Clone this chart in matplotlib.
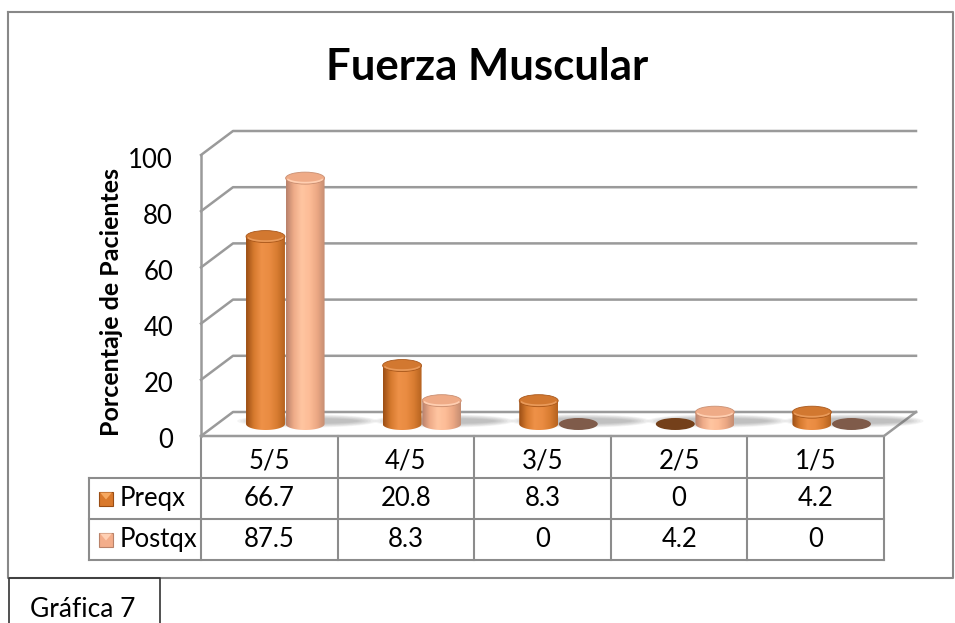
import numpy as np
import matplotlib
matplotlib.use("Agg")
import matplotlib.pyplot as plt
import matplotlib.transforms as mtransforms
from matplotlib.patches import Ellipse, Polygon
from matplotlib.colors import LinearSegmentedColormap

# data
categories = ["5/5", "4/5", "3/5", "2/5", "1/5"]
series_names = ["Preqx", "Postqx"]
preqx = [66.7, 20.8, 8.3, 0, 4.2]
postqx = [87.5, 8.3, 0, 4.2, 0]
y_ticks = [0, 20, 40, 60, 80, 100]

plt.rcParams['font.family'] = ['Lato', 'DejaVu Sans']

W, H = 955, 623
fig = plt.figure(figsize=(W / 100, H / 100), dpi=100)

# background axes in pixel units (borders, titles, table frame)
bg = fig.add_axes([0, 0, 1, 1])
bg.set_xlim(0, W)
bg.set_ylim(H, 0)
bg.axis('off')

# front plane of the 3D plot box
x_l, x_r, y_b, y_t = 201, 884, 436, 155
ax = fig.add_axes([x_l / W, 1 - y_b / H, (x_r - x_l) / W, (y_b - y_t) / H])
ax.axis('off')

n = len(categories)
px_x = (x_r - x_l) / n
px_y = (y_b - y_t) / 100
DX = 32 / px_x     # depth offset, data units
DY = 24 / px_y
RY = 6 / px_y      # half height of cylinder ellipses
x0, x1 = -0.5, n - 0.5

grid_c = '#9a9a9a'
for v in y_ticks:
    ax.plot([x0, x0 + DX, x1 + DX], [v, v + DY, v + DY], color=grid_c, lw=1.8,
            clip_on=False, zorder=1)
ax.plot([x0, x0], [0, 100], color=grid_c, lw=1.8, clip_on=False, zorder=1)
ax.plot([x0, x1, x1 + DX], [0, 0, DY], color=grid_c, lw=1.8, clip_on=False, zorder=1)

pre_cmap = LinearSegmentedColormap.from_list(
    'pre', ['#9a4d14', '#d67a2e', '#ee9148', '#ea8c42', '#d87c31', '#b5621f'])
post_cmap = LinearSegmentedColormap.from_list(
    'post', ['#b7806a', '#eeab88', '#ffc5a1', '#fdbd97', '#eca884', '#c48d72'])
styles = [
    dict(cmap=pre_cmap, top='#d27830', rim='#e99a5a', flat='#74401a', edge='#a9581c'),
    dict(cmap=post_cmap, top='#efab87', rim='#ffcfb2', flat='#7f5b4a', edge='#c98f72'),
]

bar_w = 0.285
offsets = [-0.145, 0.145]
mx, my = DX / 2, DY / 2


def shadow(cx, width, z):
    for k in np.linspace(1.0, 0.4, 7):
        ax.add_patch(Ellipse((cx + mx + 0.16, my + RY * 0.5), width * (0.7 + 0.55 * k),
                             2 * RY * 1.1 * k, facecolor='#6a6a6a', edgecolor='none',
                             alpha=0.07, zorder=z, clip_on=False))


def cylinder(cx, v, st, z):
    c = cx + mx
    left, right = c - bar_w / 2, c + bar_w / 2
    if v <= 0:
        ax.add_patch(Ellipse((c, my), bar_w, 2 * RY, facecolor=st['flat'],
                             edgecolor='none', zorder=z, clip_on=False))
        return
    top = my + v
    t = np.linspace(np.pi, 2 * np.pi, 60)
    verts = [(left, top)] + list(zip(c + bar_w / 2 * np.cos(t), my + RY * np.sin(t))) + [(right, top)]
    body = Polygon(verts, closed=True, facecolor='none', edgecolor='none', zorder=z)
    ax.add_patch(body)
    grad = np.linspace(0, 1, 256).reshape(1, -1)
    im = ax.imshow(grad, cmap=st['cmap'], extent=[left, right, my - RY, top],
                   aspect='auto', zorder=z, interpolation='bicubic')
    im.set_clip_path(body)
    ax.add_patch(Ellipse((c, top), bar_w, 2 * RY, facecolor=st['top'],
                         edgecolor=st['edge'], lw=0.6, zorder=z + 0.1))
    tt = np.linspace(np.pi * 1.1, np.pi * 1.9, 30)
    ax.plot(c + bar_w / 2 * 0.92 * np.cos(tt), top + RY * 0.75 * np.sin(tt),
            color=st['rim'], lw=1.2, zorder=z + 0.2)


z = 3
for i in range(n):
    shadow(i, 2 * bar_w + 0.25, 2)
    for s, vals in enumerate([preqx, postqx]):
        cylinder(i + offsets[s], vals[i], styles[s], z)
        z += 1

ax.set_xlim(x0, x1)
ax.set_ylim(0, 100)

FS = 18.5

# y tick labels
ytrans = mtransforms.blended_transform_factory(bg.transData, ax.transData) + \
    mtransforms.ScaledTranslation(0, -5 / 100, fig.dpi_scale_trans)
for v in y_ticks:
    ax.text(173, v, str(v), transform=ytrans, ha='right', va='center', fontsize=FS)

# titles
bg.text(487, 80, "Fuerza Muscular", ha='center', va='baseline', fontsize=31.5,
        fontweight='bold')
bg.text(111, 302, "Porcentaje de Pacientes", ha='center', va='center', fontsize=18,
        fontweight='bold', rotation=90)

# data table
tab_c = '#8c8c8c'
tt = mtransforms.blended_transform_factory(ax.transData, bg.transData)
rows = [436, 478, 519, 560]
leg_l = 89
for i in range(n + 1):
    bg.plot([x0 + i, x0 + i], [rows[0], rows[-1]], color=tab_c, lw=1.5, transform=tt)
bg.plot([leg_l, leg_l], [rows[1], rows[-1]], color=tab_c, lw=1.5)
for r in rows[1:]:
    bg.plot([leg_l, x_r], [r, r], color=tab_c, lw=1.5)

for i, cat in enumerate(categories):
    bg.text(i, 461, cat, transform=tt, ha='center', va='center', fontsize=FS)
    for s, vals in enumerate([preqx, postqx]):
        yc = (rows[s + 1] + rows[s + 2]) / 2
        bg.text(i, yc, f"{vals[i]:g}", transform=tt, ha='center', va='center', fontsize=FS)

leg_main = ['#d9792c', '#f3ad8a']
leg_light = ['#f6a860', '#ffd0b4']
leg_edge = ['#9a4d14', '#b98269']
for s, name in enumerate(series_names):
    yc = (rows[s + 1] + rows[s + 2]) / 2
    bg.add_patch(Polygon([(99, yc - 7), (113, yc - 7), (113, yc + 7), (99, yc + 7)],
                         closed=True, facecolor=leg_main[s], edgecolor=leg_edge[s], lw=0.8))
    bg.add_patch(Polygon([(100, yc - 6), (112, yc - 6), (106, yc + 1)], closed=True,
                         facecolor=leg_light[s], edgecolor='none'))
    bg.text(120, yc, name, ha='left', va='center', fontsize=FS)

# outer chart frame
bg.plot([8, 953, 953, 8, 8], [12, 12, 578, 578, 12], color='#888888', lw=1.5)

# caption box
bg.plot([9, 9, 160, 160], [623, 578, 578, 623], color='#333333', lw=1.2)
bg.text(30, 617, "Gráfica 7", ha='left', va='baseline', fontsize=19)

fig.savefig("out.png", dpi=100)
